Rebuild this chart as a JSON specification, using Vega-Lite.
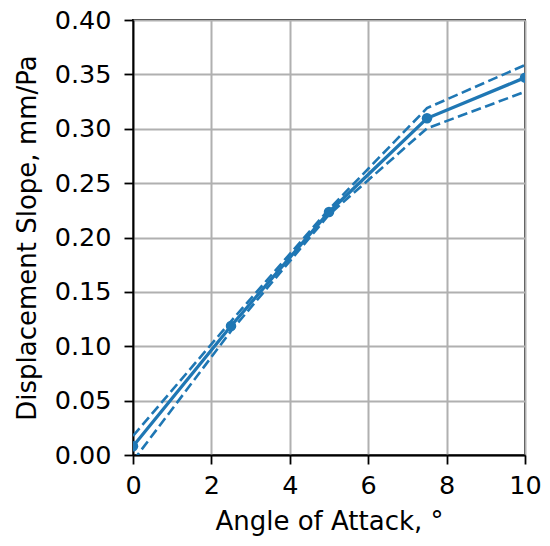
{
  "$schema": "https://vega.github.io/schema/vega-lite/v6.json",
  "width": 392,
  "height": 435,
  "autosize": {"type": "none"},
  "padding": {"left": 133, "top": 20, "right": 25, "bottom": 91},
  "background": "white",
  "config": {
    "view": {"stroke": "black", "strokeWidth": 1.8},
    "axis": {
      "domainColor": "black",
      "domainWidth": 1.8,
      "tickColor": "black",
      "tickWidth": 1.8,
      "tickSize": 9,
      "gridColor": "#b0b0b0",
      "gridWidth": 2,
      "labelFont": "DejaVu Sans",
      "labelFontSize": 25.5,
      "labelColor": "black",
      "titleFont": "DejaVu Sans",
      "titleFontSize": 26,
      "titleFontWeight": "normal",
      "titleColor": "black"
    }
  },
  "data": {
    "values": [
      {"aoa": 0, "slope": 0.008, "kind": "fit"},
      {"aoa": 2.5, "slope": 0.1186, "kind": "fit"},
      {"aoa": 5, "slope": 0.2235, "kind": "fit"},
      {"aoa": 7.5, "slope": 0.3096, "kind": "fit"},
      {"aoa": 10, "slope": 0.347, "kind": "fit"},
      {"aoa": 0, "slope": 0.0175, "kind": "upper"},
      {"aoa": 2.5, "slope": 0.123, "kind": "upper"},
      {"aoa": 5, "slope": 0.226, "kind": "upper"},
      {"aoa": 7.5, "slope": 0.319, "kind": "upper"},
      {"aoa": 10, "slope": 0.3586, "kind": "upper"},
      {"aoa": 0, "slope": -0.0055, "kind": "lower"},
      {"aoa": 2.5, "slope": 0.114, "kind": "lower"},
      {"aoa": 5, "slope": 0.221, "kind": "lower"},
      {"aoa": 7.5, "slope": 0.3004, "kind": "lower"},
      {"aoa": 10, "slope": 0.334, "kind": "lower"}
    ]
  },
  "encoding": {
    "x": {
      "field": "aoa", "type": "quantitative",
      "scale": {"domain": [0, 10], "nice": false, "zero": false},
      "axis": {"title": "Angle of Attack, °", "values": [0, 2, 4, 6, 8, 10], "format": "d", "labelPadding": 9, "titlePadding": 10, "labelFlush": false}
    },
    "y": {
      "field": "slope", "type": "quantitative",
      "scale": {"domain": [0, 0.4], "nice": false, "zero": false},
      "axis": {"title": "Displacement Slope, mm/Pa", "values": [0, 0.05, 0.1, 0.15, 0.2, 0.25, 0.3, 0.35, 0.4], "format": ".2f", "labelPadding": 13, "titlePadding": 14, "labelFlush": false}
    }
  },
  "layer": [
    {
      "transform": [{"filter": "datum.kind !== 'fit'"}],
      "mark": {"type": "line", "clip": true, "color": "#1f77b4", "strokeWidth": 2.6, "strokeDash": [10, 4.5]},
      "encoding": {"detail": {"field": "kind"}}
    },
    {
      "transform": [{"filter": "datum.kind === 'fit'"}],
      "mark": {"type": "line", "clip": true, "color": "#1f77b4", "strokeWidth": 3.3},
      "encoding": {}
    },
    {
      "transform": [{"filter": "datum.kind === 'fit'"}],
      "mark": {"type": "point", "clip": true, "filled": true, "opacity": 1, "color": "#1f77b4", "size": 110, "shape": "circle"},
      "encoding": {}
    }
  ]
}
